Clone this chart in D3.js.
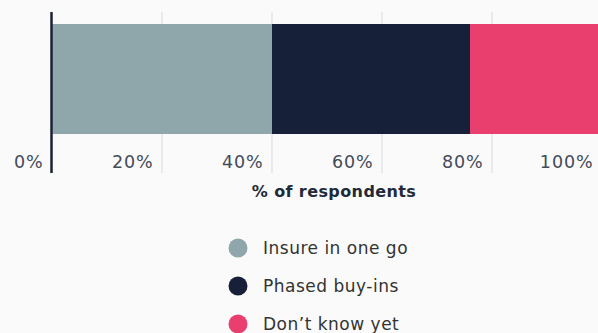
<!DOCTYPE html>
<html>
<head>
<meta charset="utf-8">
<script src="https://cdn.jsdelivr.net/npm/d3@7"></script>
<style>
  html, body { margin: 0; padding: 0; background: #fafafa; }
  svg { display: block; font-family: "DejaVu Sans", "Open Sans", sans-serif; }
</style>
</head>
<body>
<svg id="chart" width="598" height="333"></svg>
<script>
// Share of respondents by buying approach
const categories = ["Insure in one go", "Phased buy-ins", "Don\u2019t know yet"];
const values = [40, 36, 24];
const colors = ["#8fa6aa", "#162038", "#e83f6f"];
const tickValues = [0, 20, 40, 60, 80, 100];
const axisTitle = "% of respondents";

const svg = d3.select("#chart");

const x = d3.scaleLinear().domain([0, 100]).range([52, 602]);
const y = d3.scaleBand().domain(["all"]).range([24, 134]).padding(0);

// Vertical gridlines
svg.append("g")
  .selectAll("line")
  .data(tickValues.filter(d => d > 0))
  .join("line")
  .attr("x1", d => x(d)).attr("x2", d => x(d))
  .attr("y1", 12).attr("y2", 173)
  .attr("stroke", "#d7d9dc").attr("stroke-width", 1);

// Stacked segments
let acc = 0;
const segs = values.map((v, i) => {
  const s = { start: acc, end: acc + v, color: colors[i], name: categories[i] };
  acc += v;
  return s;
});
svg.append("g")
  .selectAll("rect")
  .data(segs)
  .join("rect")
  .attr("x", d => x(d.start))
  .attr("width", d => x(d.end) - x(d.start))
  .attr("y", y("all"))
  .attr("height", y.bandwidth())
  .attr("fill", d => d.color);

// Tick labels, right-aligned just left of each gridline
const axis = d3.axisBottom(x)
  .tickValues(tickValues)
  .tickFormat(d => d + "%")
  .tickSize(0);
const gAxis = svg.append("g").call(axis);
gAxis.select(".domain").remove();
gAxis.selectAll("text")
  .attr("y", 168)
  .attr("dy", 0)
  .attr("dx", -9)
  .attr("text-anchor", "end")
  .attr("fill", "#444b58")
  .style("font-size", "17.5px")
  .style("letter-spacing", "0.9px")
  .style("font-family", "\"DejaVu Sans\", sans-serif");

// Baseline axis line
svg.append("line")
  .attr("x1", x(0) - 0.5).attr("x2", x(0) - 0.5)
  .attr("y1", 12).attr("y2", 173)
  .attr("stroke", "#1a2236").attr("stroke-width", 2.5);

// Axis title
svg.append("text")
  .attr("x", 334).attr("y", 197)
  .attr("text-anchor", "middle")
  .attr("fill", "#222a3a")
  .style("font-size", "16px")
  .style("letter-spacing", "0.4px")
  .style("font-weight", "700")
  .text(axisTitle);

// Legend
const legend = svg.append("g")
  .selectAll("g")
  .data(categories)
  .join("g")
  .attr("transform", (d, i) => `translate(238,${248 + i * 38})`);
legend.append("circle")
  .attr("r", 9.5)
  .attr("fill", (d, i) => colors[i]);
legend.append("text")
  .attr("x", 25).attr("y", 0)
  .attr("dy", "0.35em")
  .attr("fill", "#333")
  .style("font-size", "17px")
  .style("letter-spacing", "0.5px")
  .text(d => d);
</script>
</body>
</html>
